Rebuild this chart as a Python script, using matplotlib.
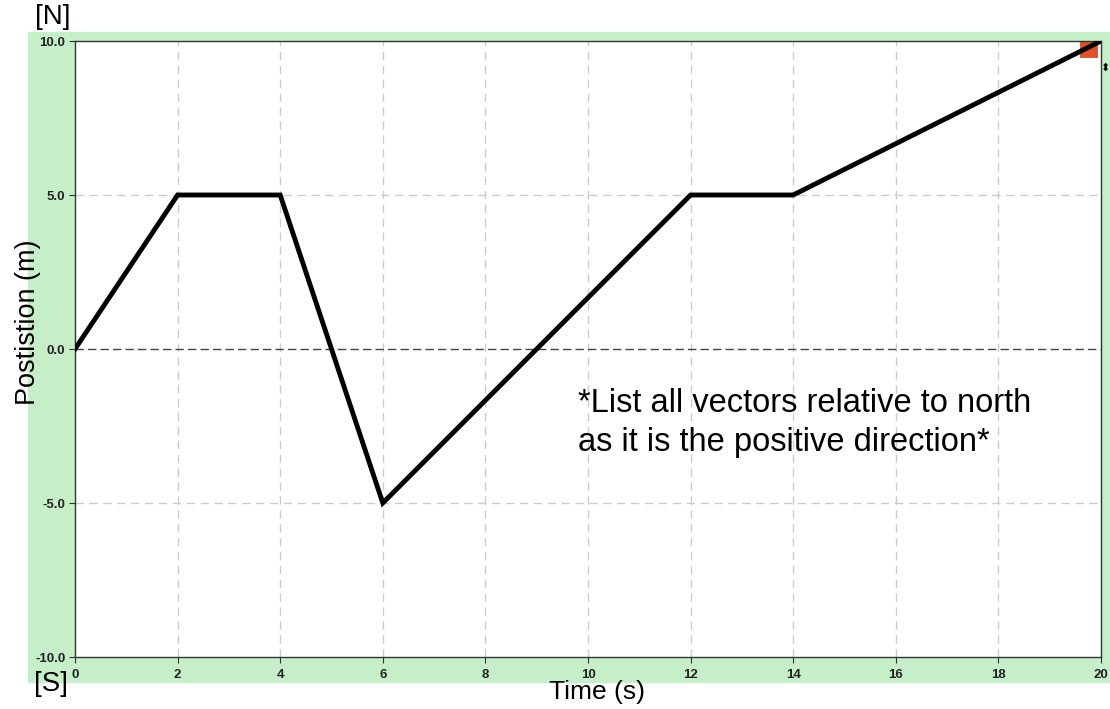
import matplotlib
matplotlib.use('Agg')
import matplotlib.pyplot as plt
from matplotlib.patches import Rectangle

plt.rcParams['font.family'] = ['Liberation Sans', 'DejaVu Sans']

# data
time_s = [0, 2, 4, 6, 12, 14, 20]
pos_m = [0, 5, 5, -5, 5, 5, 10]
x_ticks = [0, 2, 4, 6, 8, 10, 12, 14, 16, 18, 20]
y_ticks = [-10, -5, 0, 5, 10]

GREEN = '#C6EFC9'

fig = plt.figure(figsize=(11.1, 7.09), dpi=100)
W, H = 1110, 709

# green panel behind the plot
fig.patches.append(Rectangle((28 / W, 1 - 682 / H), 1 - 28 / W, (682 - 32) / H,
                             transform=fig.transFigure, color=GREEN, zorder=-5))

ax = fig.add_axes([75 / W, 1 - 657 / H, (1101 - 75) / W, (657 - 41) / H])
ax.set_zorder(1)
ax.set_facecolor('white')
ax.set_xlim(0, 20); ax.set_ylim(-10, 10)
ax.set_xticks(x_ticks)
ax.set_yticks(y_ticks)
ax.set_xticklabels([str(t) for t in x_ticks])
ax.set_yticklabels([f'{t:.1f}' for t in y_ticks])
ax.tick_params(labelsize=9.5, length=4, width=0.8, color='#333333', pad=3)
ax.tick_params(axis='x', pad=5)
for lab in ax.get_xticklabels() + ax.get_yticklabels():
    lab.set_fontweight('bold')
    lab.set_color('#222222')
for s in ax.spines.values():
    s.set_color('#333333'); s.set_linewidth(1.0)

# grid
for t in x_ticks[1:-1]:
    ax.axvline(t, color='#CCCCCC', ls=(0, (6, 4)), lw=1.0, zorder=1)
for t in [-5, 5]:
    ax.axhline(t, color='#CCCCCC', ls=(0, (6, 4)), lw=1.0, zorder=1)
ax.axhline(0, color='#444444', ls=(0, (6, 3)), lw=1.0, zorder=1)

ax.plot(time_s, pos_m, color='black', lw=3.5, solid_joinstyle='miter', zorder=3)

# red handle in the corner
ax.add_patch(Rectangle((0.9795, 0.974), 0.0166, 0.026, transform=ax.transAxes,
                       facecolor='#E2502A', edgecolor='#C8401E', lw=0.5,
                       zorder=2, clip_on=False))

ax.text(0.49, 0.436, '*List all vectors relative to north\nas it is the positive direction*',
        transform=ax.transAxes, fontsize=23.5, ha='left', va='top', linespacing=1.33)

fig.text(28 / W, 1 - 322 / H, 'Postistion (m)', rotation=90, fontsize=19.5,
         ha='center', va='center', zorder=5)
fig.text(597 / W, 1 - 692 / H, 'Time (s)', fontsize=19, ha='center', va='center')
fig.text(53 / W, 1 - 17 / H, '[N]', fontsize=20, ha='center', va='center')
fig.text(51 / W, 1 - 684 / H, '[S]', fontsize=20, ha='center', va='center')
fig.text(1105 / W, 1 - 68 / H, '⬍', fontsize=8, ha='center', va='center',
         family='DejaVu Sans')

fig.savefig('out.png', dpi=100)
